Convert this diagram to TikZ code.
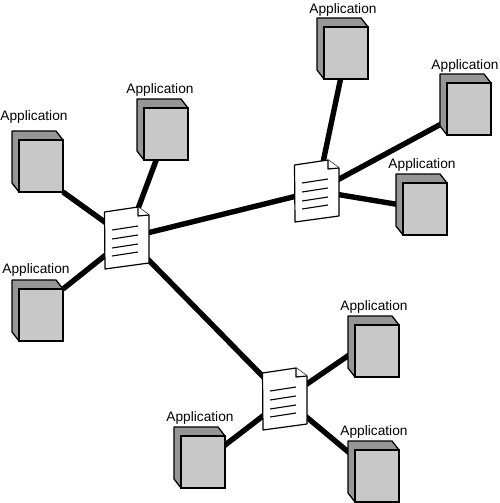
\documentclass[tikz,border=0pt]{standalone}
\usepackage{fontspec}
\setmainfont{Liberation Sans}
\usetikzlibrary{backgrounds}
\definecolor{boxfront}{HTML}{C8C8C8}
\definecolor{boxside}{HTML}{969696}
\tikzset{
  frontbox/.style={draw=black,line width=1.3pt,fill=boxfront,minimum width=44pt,minimum height=52pt,inner sep=0pt,outer sep=0pt},
  sidebox/.style={draw=black,line width=1.3pt,fill=boxside,line join=round},
  docanchor/.style={minimum width=30pt,minimum height=40pt,inner sep=0pt,outer sep=0pt},
  docsheet/.style={draw=black,line width=1.2pt,fill=white,line join=round},
  docline/.style={draw=black,line width=1.1pt},
  apptext/.style={font=\fontsize{13.7pt}{15pt}\selectfont,inner sep=0pt},
  link/.style={draw=black,line width=5.4pt}
}
\newcommand{\appbox}[5]{%
  % name, front-left x, front-top y, label x, label y
  \fill[sidebox] (#2-7,#3-9) -- (#2+37,#3-9) -- (#2+44,#3) -- (#2,#3+52) -- (#2-7,#3+43) -- cycle;
  \node[frontbox,anchor=north west] (#1) at (#2,#3) {};
  \node[apptext] (#1t) at (#4,#5+1) {Application};
}
\newcommand{\docicon}[3]{%
  \node[docanchor] (#1) at (#2,#3) {};
  \begin{scope}[shift={(#2,#3)}]
    \path[docsheet] (-22.5,-26) -- (11,-31) -- (22,-23) -- (22,25) -- (-22,31) -- cycle;
    \path[docsheet] (11,-31) -- (11,-22) -- (22,-23);
    \path[docline] (-15,-8) -- (11,-12);
    \path[docline] (-15,1) -- (11,-3);
    \path[docline] (-15,10) -- (11,6);
    \path[docline] (-15,18) -- (11,14);
  \end{scope}
}
\begin{document}
\begin{tikzpicture}[x=1pt,y=-1pt]
\useasboundingbox (0,0) rectangle (500,503);
\appbox{a}{19}{140}{34}{116}
\appbox{b}{144}{108}{160}{89}
\appbox{c}{19}{289}{36}{269}
\appbox{e}{324}{27}{343}{9}
\appbox{f}{447}{83}{465}{65}
\appbox{g}{403}{183}{422}{164}
\appbox{h}{355}{325}{374}{306}
\appbox{i}{355}{450}{374}{431}
\appbox{j}{181}{436}{200}{417}
\docicon{p}{127}{238}
\docicon{q}{317}{191}
\docicon{r}{285}{399}
\begin{scope}[on background layer]
  \fill[white] (0,0) rectangle (500,503);
  \draw[link] (a.south east) -- (p.center);
  \draw[link] (b.center) -- (p.center);
  \draw[link] (c.north east) -- (p.center);
  \draw[link] (p.center) -- (q.center);
  \draw[link] (p.center) -- (r.center);
  \draw[link] (e.center) -- (q.center);
  \draw[link] (f.center) -- (q.center);
  \draw[link] (g.center) -- (q.center);
  \draw[link] (h.west) -- (r.center);
  \draw[link] (i.center) -- (r.center);
  \draw[link] (j.center) -- (r.center);
\end{scope}
\end{tikzpicture}
\end{document}
